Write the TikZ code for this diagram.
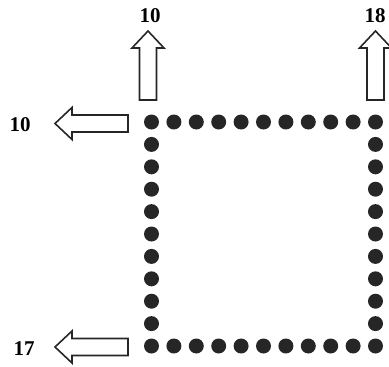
\documentclass[tikz,border=0pt]{standalone}
\usepackage{fontspec}
\setmainfont{Liberation Serif}
\begin{document}
\begin{tikzpicture}[x=1pt,y=-1pt,
  dot/.style={circle,fill=black!85,inner sep=0pt,minimum size=15pt},
  lbl/.style={font=\fontsize{21}{21}\selectfont\bfseries,inner sep=0pt},
  arr/.style={draw=black!85,line width=1.6pt,line join=miter,fill=white}]
\useasboundingbox (0,0) rectangle (389,367);
% dots
\foreach \i in {0,...,10} {
  \node[dot] (t\i) at ({151.5+22.4*\i},122) {};
  \node[dot] (b\i) at ({151.5+22.4*\i},346) {};
}
\foreach \i in {1,...,9} {
  \node[dot] (l\i) at (151.5,{122+22.4*\i}) {};
  \node[dot] (r\i) at (375.5,{122+22.4*\i}) {};
}
% up arrows
\draw[arr] (139.5,100) -- (139.5,48) -- (132,48) -- (148,31) -- (164,48) -- (156.5,48) -- (156.5,100) -- cycle;
\draw[arr] (367,100) -- (367,48) -- (359.5,48) -- (375.5,31) -- (391.5,48) -- (384,48) -- (384,100) -- cycle;
% left arrows
\draw[arr] (128,115) -- (72,115) -- (72,107.5) -- (55,123.5) -- (72,139.5) -- (72,132) -- (128,132) -- cycle;
\draw[arr] (128,338.5) -- (72,338.5) -- (72,331) -- (55,347) -- (72,363) -- (72,355.5) -- (128,355.5) -- cycle;
% labels
\node[lbl] (n1) at (150,16) {10};
\node[lbl] (n2) at (375,16) {18};
\node[lbl] (n3) at (20,125) {10};
\node[lbl] (n4) at (24,349) {17};
\end{tikzpicture}
\end{document}
